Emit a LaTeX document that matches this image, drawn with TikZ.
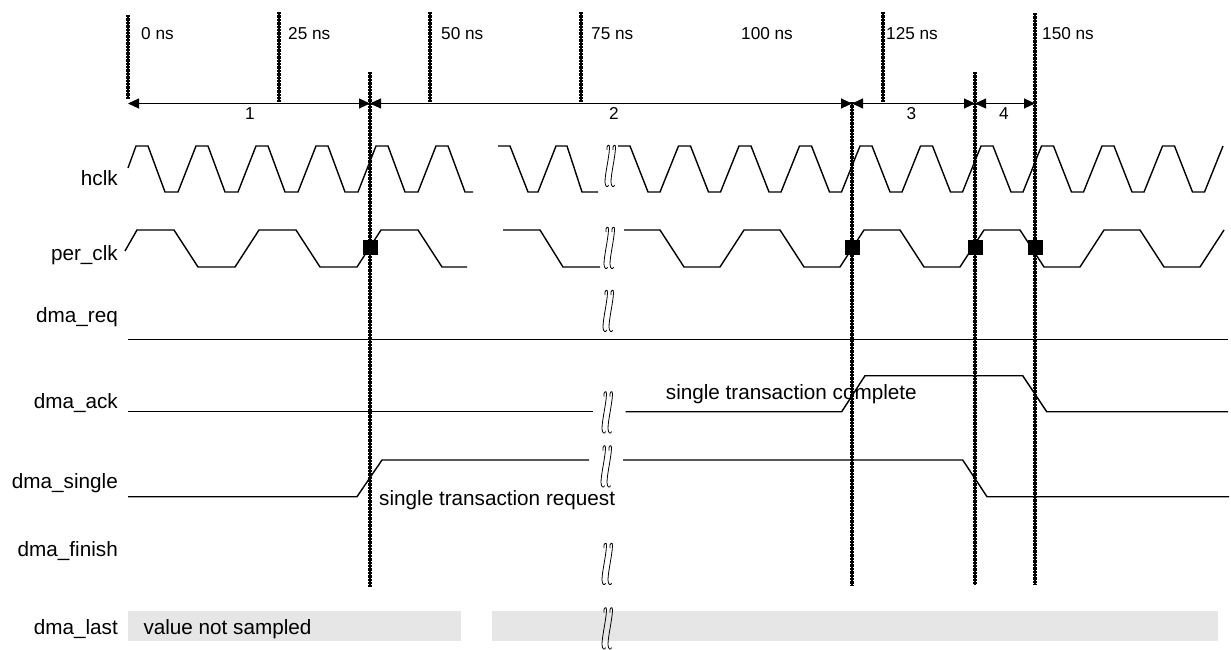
\documentclass[tikz,border=0pt]{standalone}
\usepackage{fontspec}
\setmainfont{Liberation Sans}
\usetikzlibrary{arrows.meta}
\definecolor{boxgray}{RGB}{230,230,230}
\begin{document}
\begin{tikzpicture}[x=1pt,y=-1pt,
  sig/.style={line width=1.4pt, line join=miter},
  vdot/.style={line width=3.2pt, dash pattern=on 2.4pt off 1pt,
    preaction={draw, line width=1.3pt, solid}},
  dim/.style={line width=0.9pt, {Triangle[length=11pt,width=10pt]}-{Triangle[length=11pt,width=10pt]}},
  lbl/.style={anchor=base east, inner sep=0, font=\fontsize{20.7}{24}\selectfont},
  tlbl/.style={anchor=base west, inner sep=0, font=\fontsize{17.2}{20}\selectfont},
  nlbl/.style={inner sep=0, font=\fontsize{17.2}{20}\selectfont},
  note/.style={anchor=base west, inner sep=0, font=\fontsize{20.7}{24}\selectfont},
  sq/.style={fill=black, minimum size=15pt, inner sep=0},
  graybox/.style={fill=boxgray, draw=none},
  brkmark/.pic={
    \draw[line width=0.8pt] (-2,-16) .. controls (-3,-21) and (1,-23) .. (0.5,-18)
      .. controls (0,-8) and (-4,8) .. (-4,16) .. controls (-4,21) and (-1,22) .. (-0.5,19);
    \draw[line width=0.8pt] (4,-16) .. controls (3,-21) and (7,-23) .. (6.5,-18)
      .. controls (6,-8) and (2,8) .. (2,16) .. controls (2,21) and (5,22) .. (5.5,19);
  }
]
\useasboundingbox (0,0) rectangle (1231,650);

% signal names
\node[lbl] (lhclk) at (118,185.7) {hclk};
\node[lbl] (lper) at (118,260.7) {per\_clk};
\node[lbl] (lreq) at (118,322.7) {dma\_req};
\node[lbl] (lack) at (118,408.5) {dma\_ack};
\node[lbl] (lsingle) at (118,488.3) {dma\_single};
\node[lbl] (lfinish) at (118,556.7) {dma\_finish};
\node[lbl] (llast) at (118,634) {dma\_last};

% time labels
\node[tlbl] (t0) at (141,39.3) {0 ns};
\node[tlbl] (t25) at (288,39.3) {25 ns};
\node[tlbl] (t50) at (441,39.3) {50 ns};
\node[tlbl] (t75) at (591,39.3) {75 ns};
\node[tlbl] (t100) at (741,39.3) {100 ns};
\node[tlbl] (t125) at (886,39.3) {125 ns};
\node[tlbl] (t150) at (1042,39.3) {150 ns};

% gray boxes for dma_last
\fill[graybox] (128,611) rectangle (461,641);
\fill[graybox] (492,611) rectangle (1218,641);
\node[note] (vns) at (143.3,634) {value not sampled};

% annotations
\node[note] (ncomplete) at (665.7,399.3) {single transaction complete};
\node[note] (nrequest) at (379,505) {single transaction request};

% hclk
\draw[sig] (128,168) -- (136,146)
  \foreach \k in {0,...,4}{ -- ({136+60*\k+12},146) -- ({136+60*\k+29},192) -- ({136+60*\k+42},192) -- ({136+60*\k+60},146) }
  -- (448,146) -- (465,192) -- (473,192);
\draw[sig] (498,146) -- (510,146) -- (528,192) -- (538,192) -- (556,146) -- (567,146) -- (582,192) -- (598,192);
\draw[sig] (618,146)
  \foreach \k in {0,...,9}{ -- ({618+60.5*\k+12},146) -- ({618+60.5*\k+30},192) -- ({618+60.5*\k+42},192) -- ({618+60.5*\k+60.5},146) };

% per_clk
\draw[sig] (125,251) -- (137,230)
  \foreach \k in {0,1}{ -- ({137+122*\k+37},230) -- ({137+122*\k+61},267) -- ({137+122*\k+98},267) -- ({137+122*\k+122},230) }
  -- (418,230) -- (442,267) -- (467,267);
\draw[sig] (503,230) -- (540,230) -- (563,267) -- (600,267);
\draw[sig] (624,230)
  \foreach \k in {0,...,4}{ -- ({624+120*\k+36},230) -- ({624+120*\k+60},267) -- ({624+120*\k+96},267) -- ({624+120*\k+120},230) };

% dma_req
\draw[sig] (128,339.5) -- (1228,339.5);

% dma_ack
\draw[sig] (128,411.7) -- (593,411.7);
\draw[sig] (625.7,411.7) -- (841.7,411.7) -- (865,375.7) -- (1022.7,375.7) -- (1046.7,411.7) -- (1228,411.7);

% dma_single
\draw[sig] (128,496.7) -- (357,496.7) -- (382,460) -- (589,460);
\draw[sig] (623,460) -- (962.7,460) -- (987,496.7) -- (1229,496.7);

% break marks
\pic (b1) at (609,166) {brkmark};
\pic (b2) at (608,248) {brkmark};
\pic (b3) at (607,311) {brkmark};
\pic (b4) at (606,412.5) {brkmark};
\pic (b5) at (605,466.5) {brkmark};
\pic (b6) at (606,564) {brkmark};
\pic (b7) at (606,628.5) {brkmark};

% time ticks
\draw[vdot] (128,15) -- (128,99);
\draw[vdot] (279,12) -- (279,102);
\draw[vdot] (430,12) -- (430,102);
\draw[vdot] (581,12) -- (581,102);
\draw[vdot] (883,12) -- (883,102);

% long vertical lines
\draw[vdot] (370,72) -- (370,587);
\draw[vdot] (852,102) -- (852,585);
\draw[vdot] (975,72) -- (975,585);
\draw[vdot] (1035,13) -- (1035,585);

% sample squares
\node[sq] (s1) at (370,247.5) {};
\node[sq] (s2) at (852,247.5) {};
\node[sq] (s3) at (975,247.5) {};
\node[sq] (s4) at (1035,247.5) {};

% interval dimension arrows
\coordinate (d0) at (128,103.5);
\coordinate (d1) at (370,103.5);
\coordinate (d2) at (852,103.5);
\coordinate (d3) at (975,103.5);
\coordinate (d4) at (1035,103.5);
\draw[dim] (d0) -- (d1);
\draw[dim] (d1) -- (d2);
\draw[dim] (d2) -- (d3);
\draw[dim] (d3) -- (d4);
\node[nlbl] (n1) at (250,113.5) {1};
\node[nlbl] (n2) at (614,113.5) {2};
\node[nlbl] (n3) at (911.5,113.5) {3};
\node[nlbl] (n4) at (1004,113.5) {4};
\end{tikzpicture}
\end{document}
